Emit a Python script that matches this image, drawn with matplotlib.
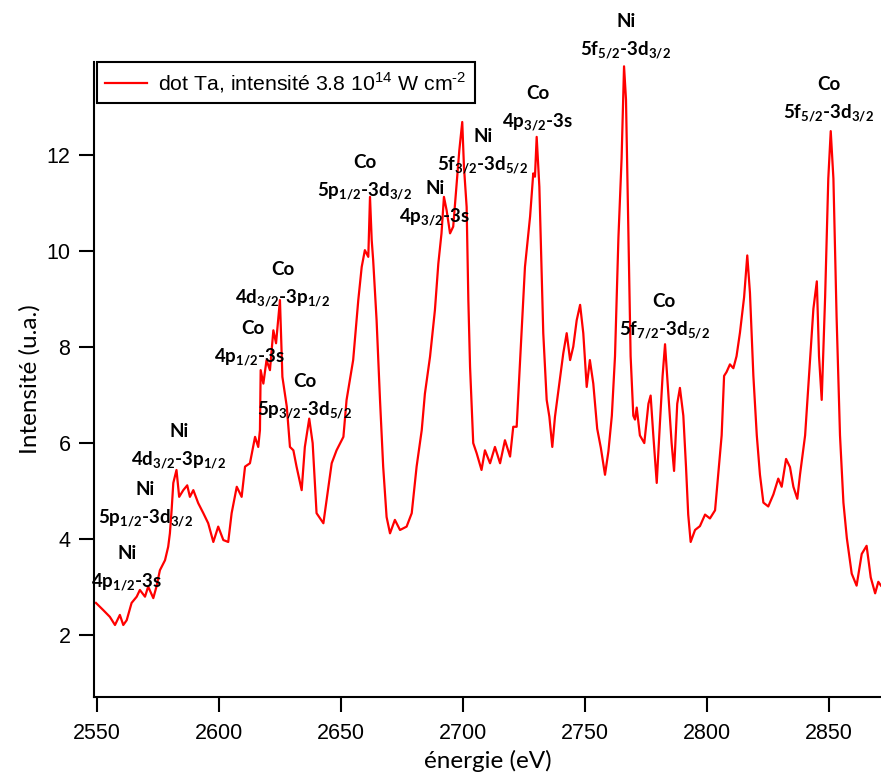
import matplotlib
matplotlib.use("Agg")
import matplotlib.pyplot as plt

plt.rcParams['mathtext.fontset'] = 'custom'
plt.rcParams['mathtext.rm'] = 'Liberation Sans'
plt.rcParams['mathtext.bf'] = 'Lato:bold'

# ---- data ----
energy = [
    2549.6, 2552.6, 2555.3, 2557.4, 2559.4, 2560.8, 2562.2, 2564.2, 2566.3, 2567.6,
    2569.7, 2571.0, 2573.1, 2574.4, 2575.8, 2577.9, 2579.2, 2579.9, 2580.6, 2581.3,
    2582.6, 2583.7, 2585.4, 2587.0, 2588.1, 2589.5, 2591.5, 2593.6, 2595.6, 2597.7,
    2599.7, 2601.8, 2603.8, 2605.2, 2607.3, 2609.3, 2610.7, 2612.7, 2614.8, 2616.1,
    2616.8, 2617.1, 2618.2, 2619.5, 2620.9, 2622.3, 2623.4, 2625.0, 2626.0, 2627.8,
    2629.1, 2630.5, 2631.8, 2633.9, 2635.2, 2637.0, 2638.4, 2640.0, 2642.8, 2644.1,
    2646.2, 2648.2, 2651.0, 2652.3, 2655.0, 2657.1, 2658.5, 2659.8, 2661.2, 2661.9,
    2662.6, 2663.2, 2664.6, 2666.0, 2667.3, 2668.7, 2670.1, 2672.1, 2674.2, 2676.9,
    2679.0, 2681.0, 2683.1, 2684.4, 2686.5, 2688.5, 2689.9, 2691.2, 2692.2, 2693.3,
    2694.7, 2696.0, 2697.4, 2698.5, 2699.7, 2700.4, 2701.5, 2702.2, 2702.9, 2704.2,
    2705.6, 2707.6, 2709.0, 2711.1, 2713.1, 2715.2, 2717.2, 2719.3, 2720.6, 2722.0,
    2724.0, 2725.4, 2727.5, 2728.8, 2729.5, 2730.2, 2731.3, 2732.2, 2732.9, 2734.3,
    2735.4, 2736.6, 2737.7, 2739.1, 2741.1, 2742.5, 2743.9, 2745.2, 2746.6, 2748.0,
    2749.3, 2750.7, 2752.0, 2753.4, 2755.0, 2756.5, 2758.2, 2759.6, 2761.0, 2762.3,
    2763.7, 2765.0, 2766.0, 2766.8, 2767.8, 2768.7, 2769.8, 2770.5, 2771.2, 2772.5,
    2774.3, 2776.0, 2776.9, 2778.0, 2779.4, 2780.7, 2781.8, 2782.8, 2784.2, 2785.5,
    2786.5, 2787.8, 2788.9, 2790.3, 2791.4, 2792.3, 2793.3, 2795.1, 2797.1, 2799.2,
    2801.2, 2803.3, 2804.6, 2806.0, 2807.0, 2808.0, 2809.4, 2810.8, 2812.1, 2813.5,
    2815.2, 2816.5, 2817.6, 2819.0, 2820.4, 2821.7, 2823.1, 2825.1, 2827.2, 2829.2,
    2830.6, 2832.4, 2834.0, 2835.4, 2837.0, 2838.1, 2840.2, 2842.0, 2843.6, 2845.0,
    2845.9, 2847.0, 2848.4, 2849.7, 2850.7, 2851.8, 2853.1, 2854.5, 2855.9, 2857.3,
    2859.3, 2861.3, 2863.4, 2865.4, 2867.1, 2868.9, 2870.2, 2871.3,
]
intensity = [
    2.67, 2.52, 2.38, 2.21, 2.42, 2.21, 2.31, 2.67, 2.80, 2.94,
    2.80, 3.01, 2.77, 3.01, 3.35, 3.56, 3.84, 4.12, 4.60, 5.17,
    5.44, 4.88, 5.02, 5.12, 4.88, 5.02, 4.75, 4.54, 4.33, 3.94,
    4.26, 3.98, 3.94, 4.54, 5.09, 4.88, 5.51, 5.58, 6.13, 5.92,
    6.27, 7.52, 7.24, 7.73, 7.52, 8.35, 8.08, 8.98, 7.38, 6.76,
    5.92, 5.85, 5.51, 5.02, 5.92, 6.51, 6.00, 4.54, 4.33, 4.81,
    5.58, 5.85, 6.13, 6.90, 7.73, 8.98, 9.67, 10.02, 9.88, 11.13,
    10.23, 9.81, 8.56, 6.90, 5.51, 4.46, 4.12, 4.40, 4.19, 4.26,
    4.54, 5.51, 6.27, 7.03, 7.80, 8.77, 9.74, 10.37, 11.13, 10.85,
    10.37, 10.51, 11.41, 12.10, 12.69, 11.76, 10.92, 8.98, 7.59, 6.00,
    5.79, 5.44, 5.85, 5.58, 5.92, 5.58, 6.06, 5.72, 6.34, 6.34,
    8.29, 9.67, 10.72, 11.62, 11.55, 12.38, 11.34, 9.67, 8.29, 6.90,
    6.55, 5.92, 6.55, 7.10, 7.87, 8.29, 7.73, 8.01, 8.56, 8.88,
    8.29, 7.17, 7.73, 7.24, 6.30, 5.90, 5.34, 5.83, 6.57, 7.81,
    10.28, 11.93, 13.85, 13.16, 10.28, 7.81, 6.57, 6.49, 6.74, 6.16,
    6.00, 6.82, 6.99, 6.16, 5.17, 6.41, 7.40, 8.06, 6.99, 6.00,
    5.42, 6.82, 7.15, 6.57, 5.50, 4.51, 3.94, 4.19, 4.27, 4.51,
    4.43, 4.60, 5.34, 6.16, 7.40, 7.48, 7.64, 7.56, 7.81, 8.30,
    9.04, 9.91, 9.13, 7.40, 6.16, 5.34, 4.76, 4.68, 4.93, 5.26,
    5.09, 5.67, 5.50, 5.09, 4.84, 5.34, 6.16, 7.56, 8.80, 9.37,
    7.81, 6.90, 9.04, 11.51, 12.50, 11.51, 8.63, 6.16, 4.76, 4.02,
    3.28, 3.03, 3.69, 3.86, 3.20, 2.87, 3.11, 3.03,
]
legend_label = r'dot Ta, intensité 3.8 10$^{\mathrm{14}}$ W cm$^{\text{-2}}$'

label_elements = ['Ni', 'Ni', 'Ni', 'Co', 'Co', 'Co', 'Co', 'Ni', 'Ni', 'Co', 'Ni', 'Co', 'Co']
label_transitions = [
    r'4p$_{\mathbf{1/2}}$-3s',
    r'5p$_{\mathbf{1/2}}$-3d$_{\mathbf{3/2}}$',
    r'4d$_{\mathbf{3/2}}$-3p$_{\mathbf{1/2}}$',
    r'4p$_{\mathbf{1/2}}$-3s',
    r'4d$_{\mathbf{3/2}}$-3p$_{\mathbf{1/2}}$',
    r'5p$_{\mathbf{3/2}}$-3d$_{\mathbf{5/2}}$',
    r'5p$_{\mathbf{1/2}}$-3d$_{\mathbf{3/2}}$',
    r'4p$_{\mathbf{3/2}}$-3s',
    r'5f$_{\mathbf{3/2}}$-3d$_{\mathbf{5/2}}$',
    r'4p$_{\mathbf{3/2}}$-3s',
    r'5f$_{\mathbf{5/2}}$-3d$_{\mathbf{3/2}}$',
    r'5f$_{\mathbf{5/2}}$-3d$_{\mathbf{3/2}}$',
    r'5f$_{\mathbf{7/2}}$-3d$_{\mathbf{5/2}}$',
]
# label anchor (energy, intensity) of the transition line
label_x = [2562.2, 2569.7, 2583.6, 2612.7, 2626.2, 2635.2, 2659.8, 2688.5, 2708.2, 2730.7, 2766.8, 2850.0, 2782.4]
label_y = [3.11, 4.44, 5.65, 7.79, 9.02, 6.69, 11.24, 10.71, 11.79, 12.69, 14.19, 12.875, 8.35]
label_elem_x = [2562.2, 2569.7, 2583.6, 2613.9, 2626.2, 2635.2, 2659.8, 2688.5, 2708.2, 2730.7, 2766.8, 2850.0, 2782.4]

# ---- figure ----
W, H = 881, 782
fig = plt.figure(figsize=(W / 100, H / 100), dpi=100)
ax = fig.add_axes([94 / W, 1 - 697 / H, 787 / W, (697 - 62) / H])

line, = ax.plot(energy, intensity, color='#ff0000', lw=1.6, label=legend_label)

ax.set_xlim(2548.8, 2871.3)
ax.set_ylim(0.71, 13.94)
ax.set_xticks([2550, 2600, 2650, 2700, 2750, 2800, 2850])
ax.set_yticks([2, 4, 6, 8, 10, 12])

for s in ['top', 'right']:
    ax.spines[s].set_visible(False)
for s in ['left', 'bottom']:
    ax.spines[s].set_linewidth(1.5)
ax.tick_params(direction='out', length=11, width=1.5, labelsize=15.5,
               colors='black')
ax.tick_params(axis='x', pad=8)
ax.tick_params(axis='y', pad=6)
for t in ax.get_xticklabels() + ax.get_yticklabels():
    t.set_fontfamily('Liberation Sans')

ax.set_xlabel('énergie (eV)', fontfamily='Lato', fontsize=17.5, labelpad=4)
ax.set_ylabel('Intensité (u.a.)', fontfamily='Lato', fontsize=17.5, labelpad=4)

dy = 0.6
for el, tr, x, y, xe in zip(label_elements, label_transitions, label_x, label_y, label_elem_x):
    ax.text(xe, y + dy, el, ha='center', va='center', fontfamily='Lato',
            fontweight='bold', fontsize=13.5, clip_on=False)
    ax.text(x, y, tr, ha='center', va='center', fontfamily='Lato',
            fontweight='bold', fontsize=13.5, clip_on=False)

leg = ax.legend(loc='upper left', bbox_to_anchor=(97 / W, 1 - 62 / H),
                bbox_transform=fig.transFigure, borderaxespad=0,
                fancybox=False, edgecolor='black', framealpha=1,
                prop={'family': 'Liberation Sans', 'size': 15.3},
                handlelength=1.95, handletextpad=0.55, borderpad=0.38)
leg.get_frame().set_linewidth(1.5)

fig.savefig('out.png', dpi=100)
